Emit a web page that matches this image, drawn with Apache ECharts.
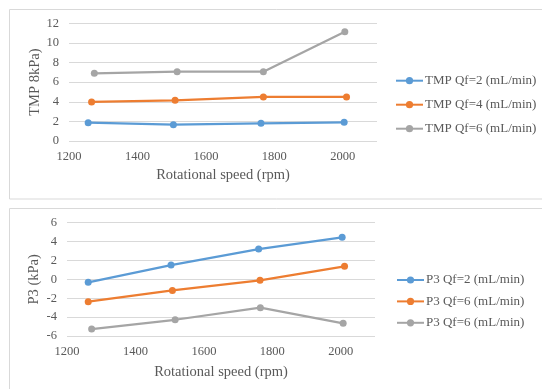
<!DOCTYPE html>
<html><head><meta charset="utf-8">
<script src="https://cdn.jsdelivr.net/npm/echarts@6/dist/echarts.min.js"></script>
<style>html,body{margin:0;padding:0;background:#fff}#c{width:542px;height:389px}</style>
</head><body><div id="c"></div>
<script>
var xTicks = [1200, 1400, 1600, 1800, 2000];
var speedTmp2 = [1256, 1505, 1761, 2004];
var tmp2 = [1.87, 1.66, 1.80, 1.90];
var speedTmp4 = [1266, 1510, 1768, 2011];
var tmp4 = [3.98, 4.15, 4.49, 4.49];
var speedTmp6 = [1274, 1516, 1768, 2006];
var tmp6 = [6.90, 7.07, 7.07, 11.15];
var speedP3a = [1262, 1504, 1760, 2004];
var p3a = [-0.32, 1.51, 3.21, 4.45];
var speedP3b = [1262, 1508, 1764, 2011];
var p3b = [-2.37, -1.17, -0.10, 1.38];
var speedP3c = [1272, 1516, 1765, 2007];
var p3c = [-5.26, -4.28, -3.00, -4.66];
var namesTop = ['TMP Qf=2 (mL/min)', 'TMP Qf=4 (mL/min)', 'TMP Qf=6 (mL/min)'];
var namesBot = ['P3 Qf=2 (mL/min)', 'P3 Qf=6 (mL/min)', 'P3 Qf=6 (mL/min) '];
var colors = ['#5b9bd5', '#ed7d31', '#a5a5a5'];

function pairs(xs, ys) { return xs.map(function (x, i) { return [x, ys[i]]; }); }
var FONT = "'Liberation Serif', serif";
var TXT = '#595959';

function xAx(idx, gap) {
  return {
    type: 'value', gridIndex: idx, min: 1200, max: 2100, interval: 200,
    name: 'Rotational speed (rpm)', nameLocation: 'middle', nameGap: gap,
    nameTextStyle: { color: TXT, fontFamily: FONT, fontSize: 14.5 },
    axisLine: { show: false }, axisTick: { show: false }, splitLine: { show: false },
    axisLabel: { color: TXT, fontFamily: FONT, fontSize: 12.5, margin: 9,
      formatter: function (v) { return xTicks.indexOf(v) >= 0 ? String(v) : ''; } }
  };
}
function yAx(idx, min, max, name, gap) {
  return {
    type: 'value', gridIndex: idx, min: min, max: max, interval: 2,
    name: name, nameLocation: 'middle', nameGap: gap, nameMoveOverlap: false,
    nameTextStyle: { color: TXT, fontFamily: FONT, fontSize: 14.5 },
    axisLine: { show: false }, axisTick: { show: false },
    splitLine: { lineStyle: { color: '#d9d9d9', width: 1 } },
    axisLabel: { color: TXT, fontFamily: FONT, fontSize: 12.5, margin: 10 }
  };
}
function ser(name, xs, ys, ci, axi) {
  return {
    name: name, type: 'line', xAxisIndex: axi, yAxisIndex: axi,
    data: pairs(xs, ys), symbol: 'circle', symbolSize: 7,
    lineStyle: { color: colors[ci], width: 2.25 },
    itemStyle: { color: colors[ci] }, animation: false
  };
}
var chart = echarts.init(document.getElementById('c'));
chart.setOption({
  animation: false,
  graphic: [
    { type: 'rect', shape: { x: 9.5, y: 9.5, width: 600, height: 189.5 }, style: { fill: 'none', stroke: '#d9d9d9', lineWidth: 1 } },
    { type: 'rect', shape: { x: 9.5, y: 208.5, width: 600, height: 200 }, style: { fill: 'none', stroke: '#d9d9d9', lineWidth: 1 } }
  ],
  grid: [
    { left: 69, right: 165, top: 23.3, height: 117.7 },
    { left: 67, right: 167, top: 222.7, height: 113.3 }
  ],
  xAxis: [xAx(0, 27), xAx(1, 29)],
  yAxis: [yAx(0, 0, 12, 'TMP 8kPa)', 26), yAx(1, -6, 6, 'P3 (kPa)', 25.5)],
  legend: [
    { data: namesTop, orient: 'vertical', left: 395, top: 74.2, padding: 0, itemWidth: 27, itemHeight: 9, itemGap: 11,
      textStyle: { color: TXT, fontFamily: FONT, fontSize: 13, padding: [0, 0, 0, -3] } },
    { data: namesBot, orient: 'vertical', left: 396, top: 273.5, padding: 0, itemWidth: 27, itemHeight: 9, itemGap: 8.4,
      textStyle: { color: TXT, fontFamily: FONT, fontSize: 13, padding: [0, 0, 0, -3] } }
  ],
  series: [
    ser(namesTop[0], speedTmp2, tmp2, 0, 0),
    ser(namesTop[1], speedTmp4, tmp4, 1, 0),
    ser(namesTop[2], speedTmp6, tmp6, 2, 0),
    ser(namesBot[0], speedP3a, p3a, 0, 1),
    ser(namesBot[1], speedP3b, p3b, 1, 1),
    ser(namesBot[2], speedP3c, p3c, 2, 1)
  ]
});
</script></body></html>
